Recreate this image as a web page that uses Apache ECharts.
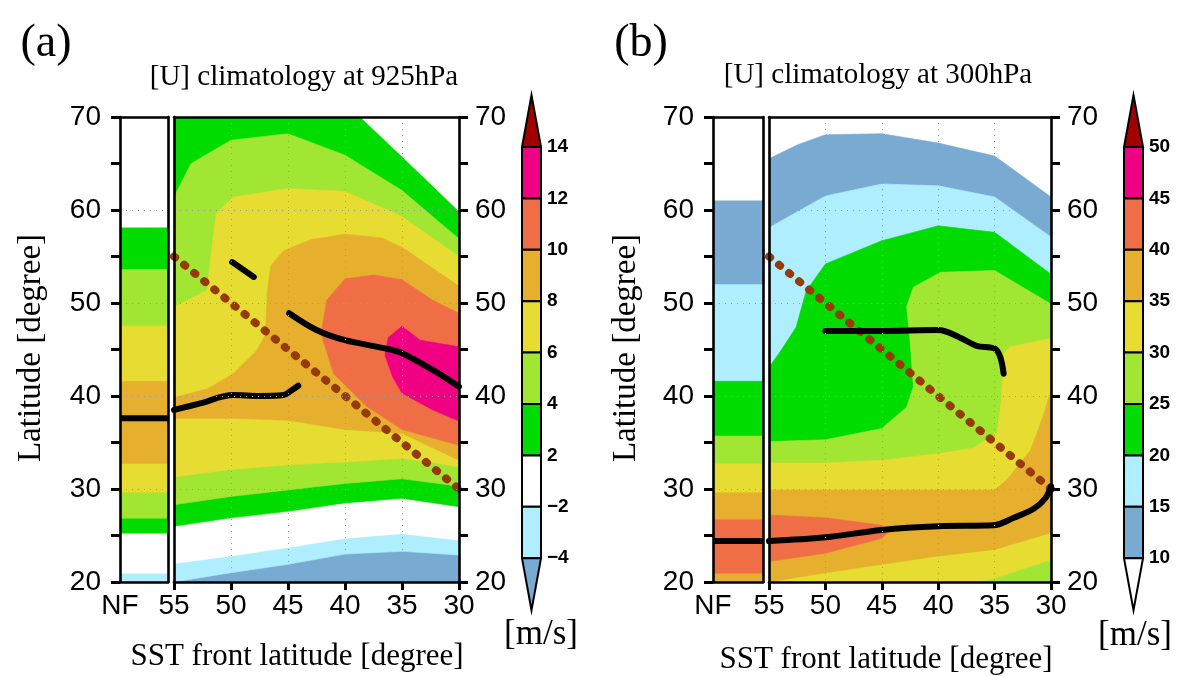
<!DOCTYPE html>
<html>
<head>
<meta charset="utf-8">
<script src="https://cdn.jsdelivr.net/npm/echarts@6/dist/echarts.min.js"></script>
<style>
html,body{margin:0;padding:0;background:#fff;}
#chart{width:1184px;height:677px;}
</style>
</head>
<body>
<div id="chart"></div>
<script>
// ---------------- DATA ----------------
// Panel (a): [U] at 925 hPa, contour thresholds (m/s) and colours
const A_LEVELS = [-4, -2, 2, 4, 6, 8, 10, 12, 14];
const A_COLORS = ['#78aad2', '#afeeff', '#ffffff', '#00dc00', '#a0e632', '#e6dc32', '#e6af2d', '#f06e46', '#f00082', '#a00000'];
// Panel (b): [U] at 300 hPa
const B_LEVELS = [10, 15, 20, 25, 30, 35, 40, 45, 50];
const B_COLORS = ['#ffffff', '#78aad2', '#afeeff', '#00dc00', '#a0e632', '#e6dc32', '#e6af2d', '#f06e46', '#f00082', '#a00000'];

// x axis ticks (SST front latitude) and y axis (latitude)
const SST_TICKS = [55, 50, 45, 40, 35, 30];
const LAT_RANGE = [20, 70];

// "NF" (no front) profiles: band edges in latitude and a representative U in each band
const A_NF_EDGES = [20, 21.0, 25.3, 26.9, 29.7, 32.8, 41.7, 47.6, 53.7, 58.2, 70];
const A_NF_U = [-3, 0, 3, 5, 7, 9, 7, 5, 3, 0];
const B_NF_EDGES = [20, 21.0, 26.8, 29.7, 32.8, 35.8, 41.7, 52.1, 61.1, 70];
const B_NF_U = [37, 42, 37, 32, 27, 22, 17, 12, 5];

// Superlevel regions (U > threshold), vertices [SST front lat, latitude]
const A_GT_M4 = [[55,20],[50,21.0],[45,21.9],[40,23.0],[35,23.3],[30,22.9],[30,70],[55,70]];
const A_GT_M2 = [[55,22.0],[50,22.8],[45,23.7],[40,24.7],[35,25.2],[30,24.5],[30,70],[55,70]];
const A_GT_2 = [[55,26.0],[50,26.9],[45,27.6],[40,28.5],[35,29.0],[30,28.1],[30,59.8],[35,65.7],[38.7,70],[55,70]];
const A_GT_4 = [[55,28.3],[50,29.2],[45,29.9],[40,30.6],[35,31.1],[30,30.3],[30,56.9],[35,62.1],[40,65.9],[45,68.2],[50,67.5],[53.5,65.0],[55,61.4]];
const A_GT_6 = [[55,31.3],[50,32.1],[45,32.6],[40,32.9],[35,33.3],[30,32.4],[30,55.0],[35,59.3],[40,62.0],[45,62.3],[49.8,61.4],[51.3,59.6],[51.7,55.7],[52.1,51.4],[53.5,50.5],[55,49.6]];
const A_GT_8 = [[55,39.8],[52,40.8],[49.8,42.4],[47.8,44.8],[47,46.5],[46.8,51.4],[46.5,54.0],[45.4,55.6],[43,56.8],[40,57.4],[36.8,57.0],[35,56.0],[30,51.8],[30,33.1],[35,36.0],[40,36.4],[45,37.4],[50,37.6],[55,37.6]];
const A_GT_10 = [[30,48.9],[32.3,50.3],[35,52.5],[37.5,53.0],[40,52.6],[41.6,50.3],[42.1,46.7],[41.0,42.4],[38.1,38.9],[35,36.4],[30,34.7]];
const A_GT_12 = [[30,45.3],[33.4,46.0],[35,47.5],[36.2,46.3],[36.5,44.4],[35.8,42.0],[35,40.3],[32.3,38.5],[30,37.3]];

const B_GT_10 = [[55,20],[30,20],[30,61.4],[35,65.8],[40,67.2],[45,68.2],[50,68.1],[52.5,67.0],[55,65.5]];
const B_GT_15 = [[55,20],[30,20],[30,57.1],[35,61.4],[40,62.6],[45,62.8],[50,61.5],[55,58.1]];
const B_GT_20 = [[55,20],[30,20],[30,53.1],[35,57.6],[40,58.3],[42.8,57.4],[45,56.7],[50,54.2],[51.7,51.3],[52.6,47.4],[54.1,44.6],[55,43.1]];
const B_GT_25 = [[55,20],[30,20],[30,49.9],[35,53.5],[39.8,53.3],[42.2,51.7],[42.8,49.6],[42.5,46.0],[42.2,41.0],[42.8,38.8],[45,36.5],[50,35.3],[55,35.1]];
const B_GT_30 = [[55,32.8],[50,32.8],[45,33.1],[40,33.8],[36.9,34.4],[34.8,36.0],[34.4,39.5],[34.2,44.6],[33.6,45.3],[30,46.2],[30,22.4],[35,20.4],[36.5,20],[55,20]];
const B_GT_35 = [[55,29.9],[35,29.9],[33.9,31.0],[31.8,34.2],[30.7,37.8],[30,40.6],[30,25.3],[35,23.5],[40,22.8],[45,21.9],[50,21.0],[55,20]];
const B_GT_40 = [[55,27.2],[50,26.9],[45,26.1],[44.4,25.4],[45,24.7],[50,23.1],[55,22.2]];

// Jet axis (black) lines
const A_JET1 = [[44.9,48.9],[42.5,47.1],[40,46.0],[36.4,45.1],[35,44.6],[32.3,42.8],[30,41.0]];
const A_JET2 = [[49.9,54.4],[48.0,52.8]];
const A_JET3 = [[55,38.5],[52.7,39.2],[49.8,40.1],[47.5,40.0],[45.4,40.1],[44.7,40.6],[44.1,41.1]];
const A_NF_JET = 37.6;
const B_JET1 = [[50,47.0],[45,47.0],[40,47.1],[38.1,46.3],[36.6,45.4],[35,45.1],[34.5,44.2],[34.2,42.4]];
const B_JET2 = [[55,24.4],[50,24.8],[45,25.6],[40,26.0],[35.1,26.1],[33.3,26.9],[31.5,27.9],[30.5,29.0],[30,30.3]];
const B_NF_JET = 24.4;
// SST front position (latitude = front latitude)
const FRONT = [[55,55],[30,30]];

// ---------------- BUILD ----------------
function colorFor(u, levels, colors) {
  let k = 0;
  for (const t of levels) if (u >= t) k++;
  return colors[k];
}
const AXIS_FONT = '"Liberation Sans", Arial, sans-serif';
const SERIF = '"Liberation Serif", "Times New Roman", serif';

const GRIDS = [
  {left: 120, top: 117, width: 48, height: 465},   // a NF
  {left: 174, top: 117, width: 285, height: 465},  // a main
  {left: 713, top: 117, width: 50, height: 465},   // b NF
  {left: 769, top: 117, width: 282, height: 465}   // b main
];
const lineStyleBlack = {color: '#000', width: 2.6};
const dotted = {color: '#9a9a9a', width: 1, type: [1, 5]};
const xAxes = [], yAxes = [];
function labelStyle() { return {color: '#000', fontFamily: AXIS_FONT, fontSize: 28}; }
GRIDS.forEach((g, gi) => {
  const nf = (gi % 2 === 0);
  if (nf) {
    xAxes.push({gridIndex: gi, type: 'value', position: 'bottom', min: 0, max: 1, interval: 0.5, z: 10,
      axisLine: {show: true, onZero: false, lineStyle: lineStyleBlack}, axisTick: {show: false}, splitLine: {show: false},
      axisLabel: Object.assign(labelStyle(), {margin: 10, showMinLabel: true, showMaxLabel: false,
        formatter: v => v === 0 ? 'NF' : ''})});
  } else {
    xAxes.push({gridIndex: gi, type: 'value', position: 'bottom', min: 30, max: 55, interval: 5, inverse: true, z: 10,
      axisLine: {show: true, onZero: false, lineStyle: lineStyleBlack},
      axisTick: {show: true, length: 8, lineStyle: {color: '#000', width: 3}},
      splitLine: {show: true, lineStyle: dotted},
      axisLabel: Object.assign(labelStyle(), {margin: 10, formatter: v => SST_TICKS.includes(v) ? String(v) : ''})});
  }
  xAxes.push({gridIndex: gi, type: 'value', position: 'top', min: nf ? 0 : 30, max: nf ? 1 : 55, inverse: !nf, z: 10,
    axisLine: {show: true, onZero: false, lineStyle: lineStyleBlack}, axisTick: {show: false}, axisLabel: {show: false}, splitLine: {show: false}});
  // left y axis
  yAxes.push({gridIndex: gi, type: 'value', position: 'left', min: LAT_RANGE[0], max: LAT_RANGE[1], interval: 10, z: 10,
    axisLine: {show: true, onZero: false, lineStyle: lineStyleBlack},
    axisTick: {show: nf, length: 9, lineStyle: {color: '#000', width: 3}},
    minorTick: {show: nf, splitNumber: 2, length: 9, lineStyle: {color: '#000', width: 3}},
    splitLine: {show: true, lineStyle: dotted},
    axisLabel: Object.assign(labelStyle(), {show: nf, margin: 19})});
  // right y axis
  yAxes.push({gridIndex: gi, type: 'value', position: 'right', min: LAT_RANGE[0], max: LAT_RANGE[1], interval: 10, z: 10,
    axisLine: {show: true, onZero: false, lineStyle: lineStyleBlack},
    axisTick: {show: !nf, length: 9, lineStyle: {color: '#000', width: 3}},
    minorTick: {show: !nf, splitNumber: 2, length: 9, lineStyle: {color: '#000', width: 3}},
    splitLine: {show: false},
    axisLabel: Object.assign(labelStyle(), {show: !nf, margin: 16})});
});

const series = [];
function polygonSeries(gi, pts, color, z) {
  series.push({type: 'custom', xAxisIndex: gi * 2, yAxisIndex: gi * 2, clip: true, z: z, silent: true,
    encode: {x: 0, y: 1}, data: pts,
    renderItem: (params, api) => {
      if (params.dataIndex !== 0) return null;
      const points = pts.map(p => api.coord(p));
      return {type: 'polygon', shape: {points: points}, style: {fill: color, stroke: color, lineWidth: 0.6}};
    }});
}
function nfSeries(gi, edges, us, levels, colors) {
  const data = us.map((u, i) => [edges[i], edges[i + 1], u]);
  series.push({type: 'custom', xAxisIndex: gi * 2, yAxisIndex: gi * 2, clip: true, z: 1, silent: true,
    data: data, encode: {y: [0, 1]},
    renderItem: (params, api) => {
      const p0 = api.coord([0, api.value(1)]);
      const p1 = api.coord([1, api.value(0)]);
      const c = colorFor(api.value(2), levels, colors);
      return {type: 'rect', shape: {x: p0[0], y: p0[1], width: p1[0] - p0[0], height: p1[1] - p0[1] + 0.5},
        style: {fill: c, stroke: c, lineWidth: 0.5}};
    }});
}
function lineSeries(gi, data, opts) {
  series.push(Object.assign({type: 'line', xAxisIndex: gi * 2, yAxisIndex: gi * 2, data: data, symbol: 'none',
    silent: true, animation: false, z: 6}, opts));
}
const jetStyle = {color: '#000', width: 6, cap: 'round', join: 'round'};
const frontStyle = {color: '#963a0a', width: 8, type: [1.5, 11.5], cap: 'round'};

// Panel (a)
polygonSeries(1, [[55,20],[30,20],[30,70],[55,70]], A_COLORS[0], 1);
[A_GT_M4, A_GT_M2, A_GT_2, A_GT_4, A_GT_6, A_GT_8, A_GT_10, A_GT_12].forEach((p, i) => polygonSeries(1, p, A_COLORS[i + 1], 1));
nfSeries(0, A_NF_EDGES, A_NF_U, A_LEVELS, A_COLORS);
lineSeries(1, FRONT, {lineStyle: frontStyle, z: 5});
lineSeries(1, A_JET1, {lineStyle: jetStyle, smooth: 0.35});
lineSeries(1, A_JET2, {lineStyle: jetStyle});
lineSeries(1, A_JET3, {lineStyle: jetStyle, smooth: 0.35});
lineSeries(0, [[0, A_NF_JET], [1, A_NF_JET]], {lineStyle: Object.assign({}, jetStyle, {cap: 'butt'})});

// Panel (b)
polygonSeries(3, [[55,20],[30,20],[30,70],[55,70]], B_COLORS[0], 1);
[B_GT_10, B_GT_15, B_GT_20, B_GT_25, B_GT_30, B_GT_35, B_GT_40].forEach((p, i) => polygonSeries(3, p, B_COLORS[i + 1], 1));
nfSeries(2, B_NF_EDGES, B_NF_U, B_LEVELS, B_COLORS);
lineSeries(3, FRONT, {lineStyle: frontStyle, z: 5});
lineSeries(3, B_JET1, {lineStyle: jetStyle, smooth: 0.35});
lineSeries(3, B_JET2, {lineStyle: jetStyle, smooth: 0.35});
lineSeries(2, [[0, B_NF_JET], [1, B_NF_JET]], {lineStyle: Object.assign({}, jetStyle, {cap: 'butt'})});

// ---------------- COLOUR BARS & TEXT ----------------
function fmt(v) { return v < 0 ? '\u2212' + Math.abs(v) : String(v); }
function colorbar(x0, levels, colors) {
  const w = 19, yTop = 147, seg = 51.4, tri = 52, n = levels.length;
  const els = [];
  els.push({type: 'polygon', shape: {points: [[x0, yTop], [x0 + w, yTop], [x0 + w / 2, yTop - tri]]},
    style: {fill: colors[n], stroke: '#000', lineWidth: 2}});
  for (let k = 0; k < n - 1; k++) {
    els.push({type: 'rect', shape: {x: x0, y: yTop + k * seg, width: w, height: seg},
      style: {fill: colors[n - 1 - k], stroke: '#000', lineWidth: 2}});
  }
  const yb = yTop + (n - 1) * seg;
  els.push({type: 'polygon', shape: {points: [[x0, yb], [x0 + w, yb], [x0 + w / 2, yb + tri]]},
    style: {fill: colors[0], stroke: '#000', lineWidth: 2}});
  for (let k = 0; k < n; k++) {
    els.push({type: 'text', x: x0 + w + 6, y: yTop + k * seg,
      style: {text: fmt(levels[n - 1 - k]), font: 'bold 19px "Liberation Sans", Arial, sans-serif', fill: '#000',
        textAlign: 'left', textVerticalAlign: 'middle'}});
  }
  return els;
}
function txt(text, x, y, size, rot) {
  return {type: 'text', x: x, y: y, rotation: rot || 0,
    style: {text: text, font: size + 'px ' + SERIF, fill: '#000', textAlign: 'center', textVerticalAlign: 'middle'}};
}
const graphics = [].concat(
  colorbar(522, A_LEVELS, A_COLORS),
  colorbar(1124, B_LEVELS, B_COLORS),
  [
    txt('(a)', 46, 44, 46), txt('(b)', 641, 44, 46),
    txt('[U] climatology at 925hPa', 304, 77, 29),
    txt('[U] climatology at 300hPa', 878, 75, 29),
    txt('Latitude [degree]', 31, 348, 33, Math.PI / 2),
    txt('Latitude [degree]', 626, 348, 33, Math.PI / 2),
    txt('SST front latitude [degree]', 297, 657, 31),
    txt('SST front latitude [degree]', 886, 660, 31),
    txt('[m/s]', 541, 635, 35), txt('[m/s]', 1135, 636, 35)
  ]);

const chart = echarts.init(document.getElementById('chart'), null, {renderer: 'canvas'});
chart.setOption({
  animation: false,
  backgroundColor: '#ffffff',
  grid: GRIDS.map(g => Object.assign({containLabel: false}, g)),
  xAxis: xAxes,
  yAxis: yAxes,
  series: series,
  graphic: graphics
});
</script>
</body>
</html>
